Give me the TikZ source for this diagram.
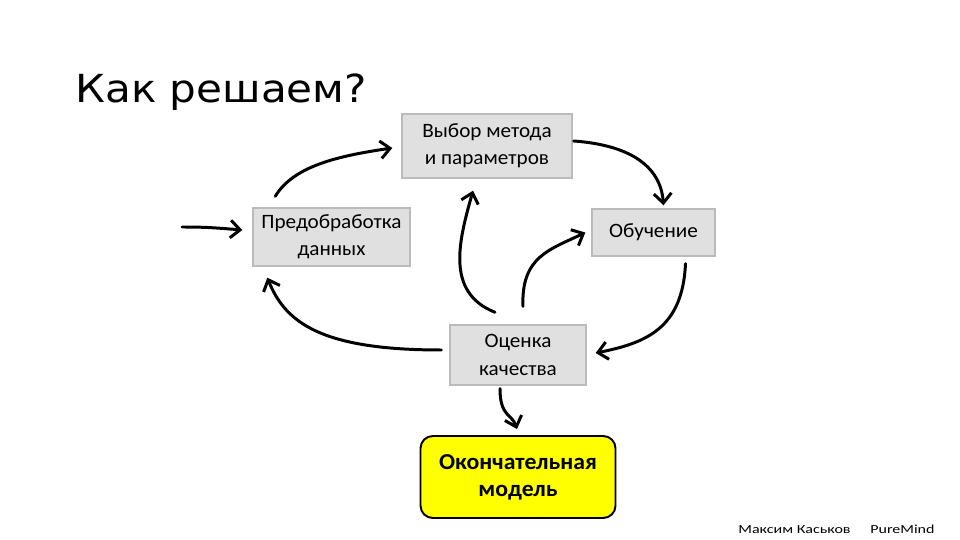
\documentclass[tikz,border=0pt]{standalone}
\usepackage{fontspec}
\setmainfont{Carlito}
\newfontfamily\titlefont[FakeStretch=1.09]{DejaVu Sans}
\newfontfamily\boxfont[FakeStretch=1.04]{Carlito}
\newfontfamily\footfont[FakeStretch=1.3]{Carlito}
\usepackage{tikz}
\usetikzlibrary{arrows.meta, calc}

\definecolor{boxgray}{HTML}{E0E0E0}
\definecolor{boxline}{HTML}{BBBBBB}
\definecolor{finalyellow}{HTML}{FFFF00}

\tikzset{
    stage/.style={draw=boxline, line width=0.8pt, fill=boxgray, align=center,
        font=\boxfont\fontsize{11.6}{15.5}\selectfont, inner sep=0pt},
    result/.style={draw=black, line width=1.1pt, fill=finalyellow, rounded corners=7pt,
        align=center, font=\boxfont\bfseries\fontsize{13}{15.5}\selectfont, inner sep=0pt},
    flow/.style={line width=1.7pt, line cap=round, -{Straight Barb[length=5.5pt, width=10pt, line width=1.7pt]}}
}

\begin{document}
\begin{tikzpicture}[x=0.02cm, y=-0.02cm]
    \useasboundingbox (0,0) rectangle (960,540);

    % title
    \node[anchor=base west, font=\titlefont\fontsize{22}{26}\selectfont, inner sep=0pt] (title) at (75,103) {Как решаем?};

    % stages
    \node[stage, minimum width=3.14cm, minimum height=1.16cm] (prep) at (331.5,237) {Предобработка\\данных};
    \node[stage, minimum width=3.40cm, minimum height=1.28cm] (choose) at (487,146) {Выбор метода\\и параметров};
    \node[stage, minimum width=2.46cm, minimum height=0.94cm] (train) at (653.5,232.5) {Обучение};
    \node[stage, minimum width=2.72cm, minimum height=1.20cm] (eval) at (518,355) {Оценка\\качества};
    \node[result, minimum width=3.90cm, minimum height=1.64cm] (final) at (518,477) {Окончательная\\модель};

    \coordinate (in) at (182,227);

    % arrows
    \draw[flow] (in) .. controls +(25,0) and +(-25,-2) .. ($(prep.west)+(-10,-7)$);
    \draw[flow] ($(prep.north west)+(23,-11)$) .. controls +(18,-30) and +(-55,8) .. ($(choose.west)+(-9,2)$);
    \draw[flow] ($(choose.east)+(1,-5)$) .. controls +(55,4) and +(-3,-40) .. ($(train.north)+(10,-3)$);
    \draw[flow] ($(train.south)+(32,7)$) .. controls +(-3,65) and +(50,-10) .. ($(eval.east)+(9,-2)$);
    \draw[flow] ($(eval.north)+(5,-18)$) .. controls +(-2,-50) and +(-35,17) .. ($(train.west)+(-6,0)$);
    \draw[flow] ($(eval.north)+(-23,-12)$) .. controls +(-50,-20) and +(-14,50) .. ($(choose.south)+(-14,12)$);
    \draw[flow] ($(eval.west)+(-8,-5)$) .. controls +(-120,0) and +(18,45) .. ($(prep.south west)+(15,11)$);
    \draw[flow] ($(eval.south)+(-18,3)$) .. controls +(0,28) and +(-5,-15) .. ($(final.north)+(-1,-6)$);

    % footer
    \node[anchor=base west, font=\footfont\fontsize{7}{8}\selectfont, inner sep=0pt] (author) at (738,533) {Максим Каськов};
    \node[anchor=base west, font=\footfont\fontsize{7}{8}\selectfont, inner sep=0pt] (brand) at (870,533) {PureMind};
\end{tikzpicture}
\end{document}
